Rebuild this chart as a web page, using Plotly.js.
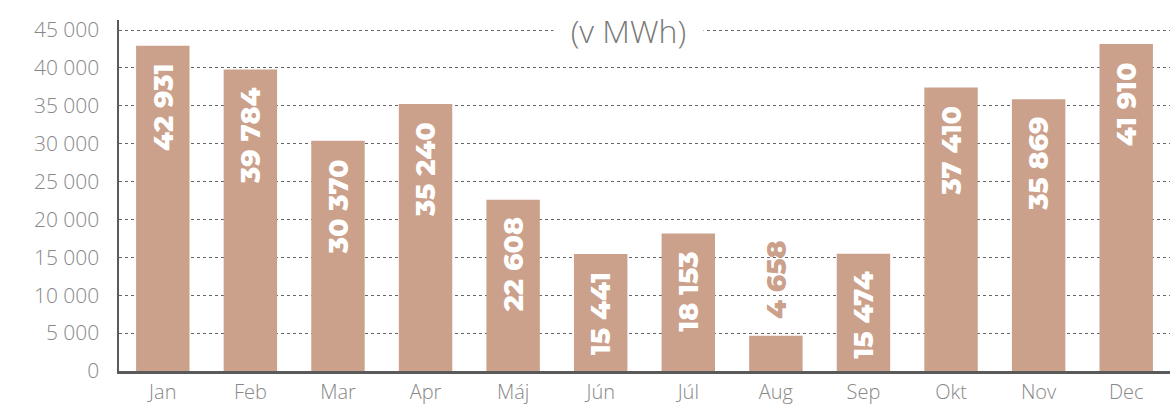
<!DOCTYPE html>
<html>
<head>
<meta charset="utf-8">
<script src="https://cdn.plot.ly/plotly-3.0.1.min.js"></script>
<style>html,body{margin:0;padding:0;background:#fff;}#chart{width:1171px;height:406px;}</style>
</head>
<body>
<div id="chart"></div>
<script>
const months = ["Jan","Feb","Mar","Apr","Máj","Jún","Júl","Aug","Sep","Okt","Nov","Dec"];
// bar heights as drawn in the picture
const barValues = [42931, 39784, 30370, 35240, 22608, 15441, 18153, 4658, 15474, 37410, 35869, 43150];
// numbers printed on the bars
const barLabels = ["42 931","39 784","30 370","35 240","22 608","15 441","18 153","4 658","15 474","37 410","35 869","41 910"];
const unitTitle = "(v MWh)";
const yTicks = [0,5000,10000,15000,20000,25000,30000,35000,40000,45000];

const barColor = "#CBA18B";
const labelFont = "Montserrat, Inter, 'Open Sans', sans-serif";
const tickFamily = "'Open Sans', Lato, sans-serif";

const annotations = months.map((m, i) => {
  const outside = barValues[i] < 10000;
  return {
    x: m, y: barValues[i], xref: "x", yref: "y",
    text: barLabels[i], showarrow: false, textangle: -90,
    yanchor: outside ? "bottom" : "top",
    yshift: outside ? 15 : -16,
    font: {family: labelFont, size: 27, weight: 800, color: outside ? barColor : "#ffffff"}
  };
});
annotations.push({
  x: 0.485, xref: "paper", y: 45000, yref: "y", showarrow: false,
  bgcolor: "#ffffff", borderpad: 0, xanchor: "center", yanchor: "middle",
  text: "&nbsp;&nbsp;" + unitTitle + "&nbsp;&nbsp;",
  font: {family: tickFamily, size: 32, weight: 300, color: "#7a7a7a"}
});

const trace = {
  type: "bar", x: months, y: barValues,
  marker: {color: barColor},
  hoverinfo: "skip"
};

const layout = {
  width: 1171, height: 406,
  margin: {l: 119, r: 1, t: 20, b: 35},
  paper_bgcolor: "#ffffff", plot_bgcolor: "#ffffff",
  separators: ", ",
  bargap: 0.39,
  showlegend: false,
  font: {family: tickFamily, color: "#888888"},
  xaxis: {
    type: "category", showgrid: false, showline: true, linecolor: "#5a5a5a", linewidth: 2.5,
    ticks: "", tickfont: {size: 20, color: "#888888", weight: 300}, ticklabelstandoff: 1,
    zeroline: false, fixedrange: true
  },
  yaxis: {
    range: [0, 46320], tickvals: yTicks, tickformat: ",d",
    showgrid: true, gridcolor: "#666666", gridwidth: 1, griddash: "dot",
    showline: true, linecolor: "#5a5a5a", linewidth: 2.5, zeroline: false,
    ticks: "", tickfont: {size: 21, color: "#888888", weight: 300}, ticklabelstandoff: 13,
    fixedrange: true
  },
  annotations: annotations
};

Plotly.newPlot("chart", [trace], layout, {displayModeBar: false, staticPlot: true});
</script>
</body>
</html>
